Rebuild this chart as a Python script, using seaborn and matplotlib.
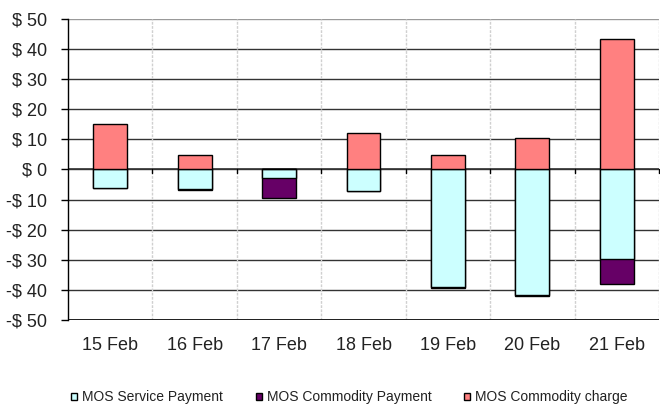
import matplotlib
matplotlib.use("Agg")
import matplotlib.pyplot as plt
import seaborn as sns
import pandas as pd
import numpy as np
from matplotlib.patches import Patch

dates = ["15 Feb", "16 Feb", "17 Feb", "18 Feb", "19 Feb", "20 Feb", "21 Feb"]
service_payment = [-6.0, -6.6, -2.8, -7.0, -39.0, -41.7, -29.6]
commodity_payment = [-0.3, -0.3, -6.6, -0.2, -0.4, -0.4, -8.4]
commodity_charge = [15.0, 4.9, 0.0, 12.2, 4.8, 10.3, 43.4]
yticks = [50, 40, 30, 20, 10, 0, -10, -20, -30, -40, -50]
ytick_labels = ["$ 50", "$ 40", "$ 30", "$ 20", "$ 10", "$ 0", "-$ 10", "-$ 20", "-$ 30", "-$ 40", "-$ 50"]

c_service = "#CCFFFF"
c_cpay = "#660066"
c_charge = "#FF8080"

df = pd.DataFrame({
    "date": dates,
    "service": service_payment,
    "cpay": commodity_payment,
    "charge": commodity_charge,
})
df["neg_total"] = df["service"] + df["cpay"]

sns.set_theme(style="white")
plt.rcParams["font.family"] = ["Liberation Sans", "DejaVu Sans"]

fig = plt.figure(figsize=(6.6, 4.05), dpi=100)
ax = fig.add_axes([68/660, 1-320/405, (659-68)/660, (320-19)/405])

bw = 0.40
kw = dict(edgecolor="black", linewidth=1.0, width=bw, zorder=3, saturation=1)
sns.barplot(data=df, x="date", y="neg_total", color=c_cpay, ax=ax, **kw)
sns.barplot(data=df, x="date", y="service", color=c_service, ax=ax, **kw)
sns.barplot(data=df, x="date", y="charge", color=c_charge, ax=ax, **kw)

ax.set_ylim(-50, 50)
ax.set_xlim(-0.5, 6.5)
ax.set_yticks(yticks)
ax.set_yticklabels(ytick_labels, fontsize=13, color="#222222")
ax.set_xticks(range(len(dates)))
ax.set_xticklabels(dates, fontsize=13, color="#222222")
ax.set_xlabel("")
ax.set_ylabel("")
ax.tick_params(axis="x", length=0, pad=12)
ax.tick_params(axis="y", left=True, length=5, width=1, color="black", pad=10)

for y in yticks:
    ax.axhline(y, color="#333333" if y != 50 else "#999999", linewidth=1.0, zorder=1)
ax.axhline(-50, color="black", linewidth=1.2, zorder=4)
for xb in np.arange(0.5, 7.0, 1.0):
    ax.axvline(xb, color="#d0d0d0", linewidth=1.0, linestyle=(0, (2, 1)), zorder=1)
    ax.plot([xb, xb], [0, -1.3], color="black", linewidth=1.0, zorder=4, clip_on=False)
ax.axhline(0, color="#333333", linewidth=1.2, zorder=2)

for s in ["top", "right", "bottom"]:
    ax.spines[s].set_visible(False)
ax.spines["left"].set_visible(True)
ax.spines["left"].set_color("black")
ax.spines["left"].set_linewidth(1.0)

handles = [Patch(facecolor=c_service, edgecolor="black", linewidth=1.0),
           Patch(facecolor=c_cpay, edgecolor="black", linewidth=1.0),
           Patch(facecolor=c_charge, edgecolor="black", linewidth=1.0)]
labels = ["MOS Service Payment", "MOS Commodity Payment", "MOS Commodity charge"]
leg = fig.legend(handles, labels, loc="center left", bbox_to_anchor=(71/660, 1-397.5/405), ncol=3,
                 frameon=False, fontsize=10, handlelength=0.45, handleheight=0.45,
                 handletextpad=0.35, columnspacing=2.35, borderaxespad=0, borderpad=0)
for t in leg.get_texts():
    t.set_color("#222222")

fig.savefig("out.png", dpi=100)
